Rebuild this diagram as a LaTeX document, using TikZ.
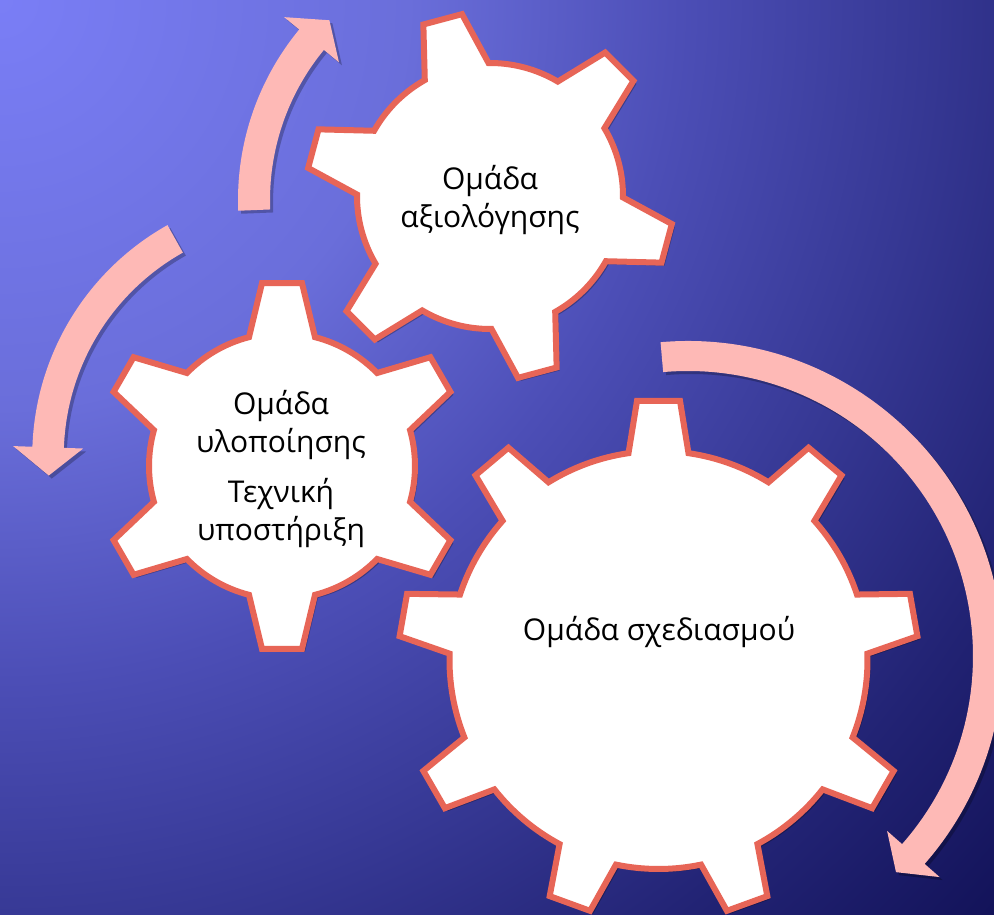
\documentclass[tikz,border=0pt]{standalone}
\usepackage{fontspec}
\setmainfont{Open Sans}
\definecolor{bgA}{RGB}{122,126,246}
\definecolor{bgB}{RGB}{106,110,218}
\definecolor{bgC}{RGB}{76,78,182}
\definecolor{bgD}{RGB}{54,56,148}
\definecolor{bgE}{RGB}{34,35,116}
\definecolor{bgF}{RGB}{18,18,88}
\definecolor{gearline}{RGB}{231,101,87}
\definecolor{arrowpink}{RGB}{254,185,182}
\pgfdeclareradialshading{bgshade}{\pgfpoint{0bp}{0bp}}{color(0bp)=(bgA); color(7.5bp)=(bgB); color(12.5bp)=(bgC); color(17bp)=(bgD); color(21bp)=(bgE); color(25bp)=(bgF); color(50bp)=(bgF)}
% gear: #1 style, #2 cx, #3 cy, #4 N, #5 start angle, #6 root r, #7 tip R, #8 tip half width, #9 base half width
\newcommand\mygear[9]{%
  \pgfmathsetmacro\gstep{360/#4}%
  \pgfmathsetmacro\gab{asin(#9/#6)}%
  \pgfmathsetmacro\gat{asin(#8/#7)}%
  \pgfmathtruncatemacro\glast{#4-1}%
  \path[#1,shift={(#2,#3)}] ({#5-\gab}:#6)
    \foreach \k in {0,...,\glast}{
      -- ({#5+\k*\gstep-\gat}:#7) -- ({#5+\k*\gstep+\gat}:#7)
      -- ({#5+\k*\gstep+\gab}:#6)
      arc[start angle={#5+\k*\gstep+\gab}, end angle={#5+(\k+1)*\gstep-\gab}, radius=#6]
    } -- cycle;
}
% arrow: #1 style, #2 cx, #3 cy, #4 mid radius, #5 half shaft, #6 half head, #7 tail angle, #8 head base angle, #9 tip angle
\newcommand\myarrow[9]{%
  \pgfmathsetmacro\aro{#4+#5}%
  \pgfmathsetmacro\ari{#4-#5}%
  \pgfmathsetmacro\aho{#4+#6}%
  \pgfmathsetmacro\ahi{#4-#6}%
  \path[#1,shift={(#2,#3)}] ({#7}:\aro) arc[start angle={#7}, end angle={#8}, radius=\aro]
    -- ({#8}:\aho) -- ({#9}:#4) -- ({#8}:\ahi) -- ({#8}:\ari)
    arc[start angle={#8}, end angle={#7}, radius=\ari] -- cycle;
}
\tikzset{
  gearbody/.style={fill=white, draw=gearline, line width=6, line join=miter},
  gearshadow/.style={fill=black, fill opacity=0.28, xshift=3, yshift=-3},
  arrowbody/.style={fill=arrowpink},
  arrowshadow/.style={fill=black, fill opacity=0.25, xshift=3, yshift=-3},
  geartext/.style={align=center, font=\fontsize{30}{38}\selectfont, text=black, inner sep=0pt}
}
\begin{document}
\begin{tikzpicture}[x=1pt,y=1pt]
\useasboundingbox (0,0) rectangle (994,914);
\begin{scope}
\clip (0,0) rectangle (994,914);
\shade[shading=bgshade] (-1360,-446) rectangle (1360,2274);
% shadows
\myarrow{arrowshadow}{506}{714}{252}{16}{35.5}{182.3}{140.5}{134.5}
\myarrow{arrowshadow}{297}{458}{249}{15.75}{35}{119.3}{178}{184.5}
\myarrow{arrowshadow}{688}{258}{300}{15}{35}{95}{-41.3}{-46.1}
\mygear{gearshadow}{490}{718}{6}{105}{133}{184}{20}{33}
\mygear{gearshadow}{282}{448}{6}{90}{133}{184}{20}{33}
\mygear{gearshadow}{658.5}{254}{9}{90}{209}{260}{21.5}{30}
% arrows
\myarrow{arrowbody}{506}{714}{252}{16}{35.5}{182.3}{140.5}{134.5}
\myarrow{arrowbody}{297}{458}{249}{15.75}{35}{119.3}{178}{184.5}
\myarrow{arrowbody}{688}{258}{300}{15}{35}{95}{-41.3}{-46.1}
% gears
\mygear{gearbody}{490}{718}{6}{105}{133}{184}{20}{33}
\mygear{gearbody}{282}{448}{6}{90}{133}{184}{20}{33}
\mygear{gearbody}{658.5}{254}{9}{90}{209}{260}{21.5}{30}
\end{scope}
% texts
\node[geartext] (teval) at (490,714) {Ομάδα\\αξιολόγησης};
\node[geartext] (timpl) at (281,445) {Ομάδα\\υλοποίησης\\[12pt]Τεχνική\\υποστήριξη};
\node[geartext] (tdesign) at (659,282) {Ομάδα σχεδιασμού};
\end{tikzpicture}
\end{document}
